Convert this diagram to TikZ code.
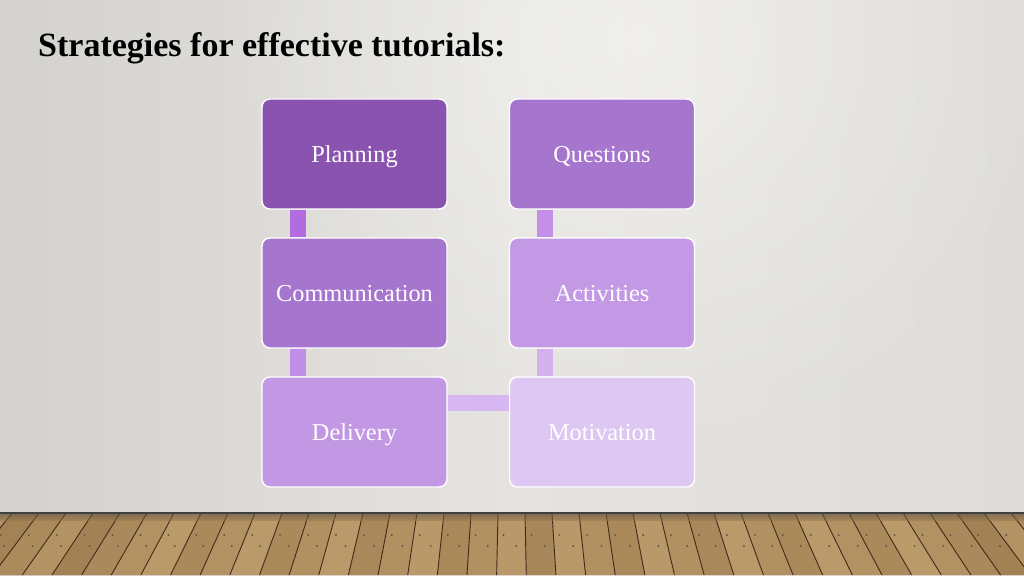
\documentclass[tikz,border=0pt]{standalone}
\usepackage{fontspec}
\setmainfont{Liberation Serif}
\usetikzlibrary{fadings}
\tikzfading[name=glowfade, inner color=transparent!0, outer color=transparent!100]
\definecolor{bgL}{HTML}{D4D2CE}
\definecolor{bgM}{HTML}{E4E3DF}
\definecolor{bgR}{HTML}{DEDCD8}
\definecolor{cPlan}{HTML}{8A53B0}
\definecolor{cQues}{HTML}{A675CD}
\definecolor{cComm}{HTML}{A676CE}
\definecolor{cActi}{HTML}{C399E5}
\definecolor{cDeli}{HTML}{C297E4}
\definecolor{cMoti}{HTML}{DFC7F4}
\definecolor{kA}{HTML}{B36BE1}
\definecolor{kB}{HTML}{C18FE9}
\definecolor{kC}{HTML}{C48FE9}
\definecolor{kD}{HTML}{D3B1EF}
\definecolor{kE}{HTML}{D6B7F1}
\definecolor{woodA}{HTML}{97764A}
\definecolor{woodB}{HTML}{C4A473}
\definecolor{woodLine}{HTML}{3E2C1A}
\tikzset{
  box/.style={draw=white, line width=1.4pt, rounded corners=8pt,
    minimum width=185pt, minimum height=110pt, inner sep=0pt,
    text height=18pt, text depth=2pt,
    text=white, font=\fontsize{24.3}{26}\selectfont},
  bar/.style={line width=16pt, line cap=butt},
  title/.style={anchor=base west, inner sep=0pt, font=\fontsize{34}{38}\selectfont\bfseries}
}
\begin{document}
\begin{tikzpicture}[x=1pt,y=-1pt]
\useasboundingbox (0,0) rectangle (1024,575);
% background
\shade[left color=bgL, right color=bgR, middle color=bgM] (0,0) rectangle (1024,575);
\fill[white, opacity=0.45, path fading=glowfade] (640,40) circle (420);
% floor
\begin{scope}
\clip (0,513) rectangle (1024,575);
\fill[woodA] (0,513) rectangle (1024,575);
\foreach \k in {-20,...,19}{
  \pgfmathsetmacro\xa{525+27*\k}
  \pgfmathsetmacro\xb{525+27*(\k+1)}
  \pgfmathsetmacro\xab{512+(\xa-512)*1.098}
  \pgfmathsetmacro\xbb{512+(\xb-512)*1.098}
  \pgfmathtruncatemacro\p{mod(abs(\k)*37+13,55)+25}
  \fill[woodB!\p!woodA] (\xa,513) -- (\xb,513) -- (\xbb,575) -- (\xab,575) -- cycle;
  \draw[woodLine, line width=0.9pt] (\xa,513) -- (\xab,575);
  \pgfmathsetmacro\nxa{\xa+(\xab-\xa)*0.35+6}
  \pgfmathsetmacro\nxb{\xa+(\xab-\xa)*0.55+19}
  \fill[woodLine!80] (\nxa,535) circle (1.1);
  \fill[woodLine!80] (\nxb,546) circle (1.1);
}
\shade[top color=black!70, bottom color=woodA, opacity=0.5] (0,513) rectangle (1024,520);
\end{scope}
\draw[black!75, line width=1.6pt] (0,513) -- (1024,513);
% title
\node[title] (ttl) at (38,57) {Strategies for effective tutorials:};
% boxes
\node[box, fill=cPlan] (plan) at (354.5,154) {Planning};
\node[box, fill=cComm] (comm) at (354.5,293) {Communication};
\node[box, fill=cDeli] (deli) at (354.5,432) {Delivery};
\node[box, fill=cQues] (ques) at (602,154) {Questions};
\node[box, fill=cActi] (acti) at (602,293) {Activities};
\node[box, fill=cMoti] (moti) at (602,432) {Motivation};
% connectors
\draw[bar, kA] ([xshift=37pt]plan.south west) -- ([xshift=37pt]comm.north west);
\draw[bar, kB] ([xshift=37pt]comm.south west) -- ([xshift=37pt]deli.north west);
\draw[bar, kC] ([xshift=36.5pt]ques.south west) -- ([xshift=36.5pt]acti.north west);
\draw[bar, kD] ([xshift=36.5pt]acti.south west) -- ([xshift=36.5pt]moti.north west);
\draw[bar, kE] ([yshift=-27pt]deli.north east) -- ([yshift=-27pt]moti.north west);
\end{tikzpicture}
\end{document}
